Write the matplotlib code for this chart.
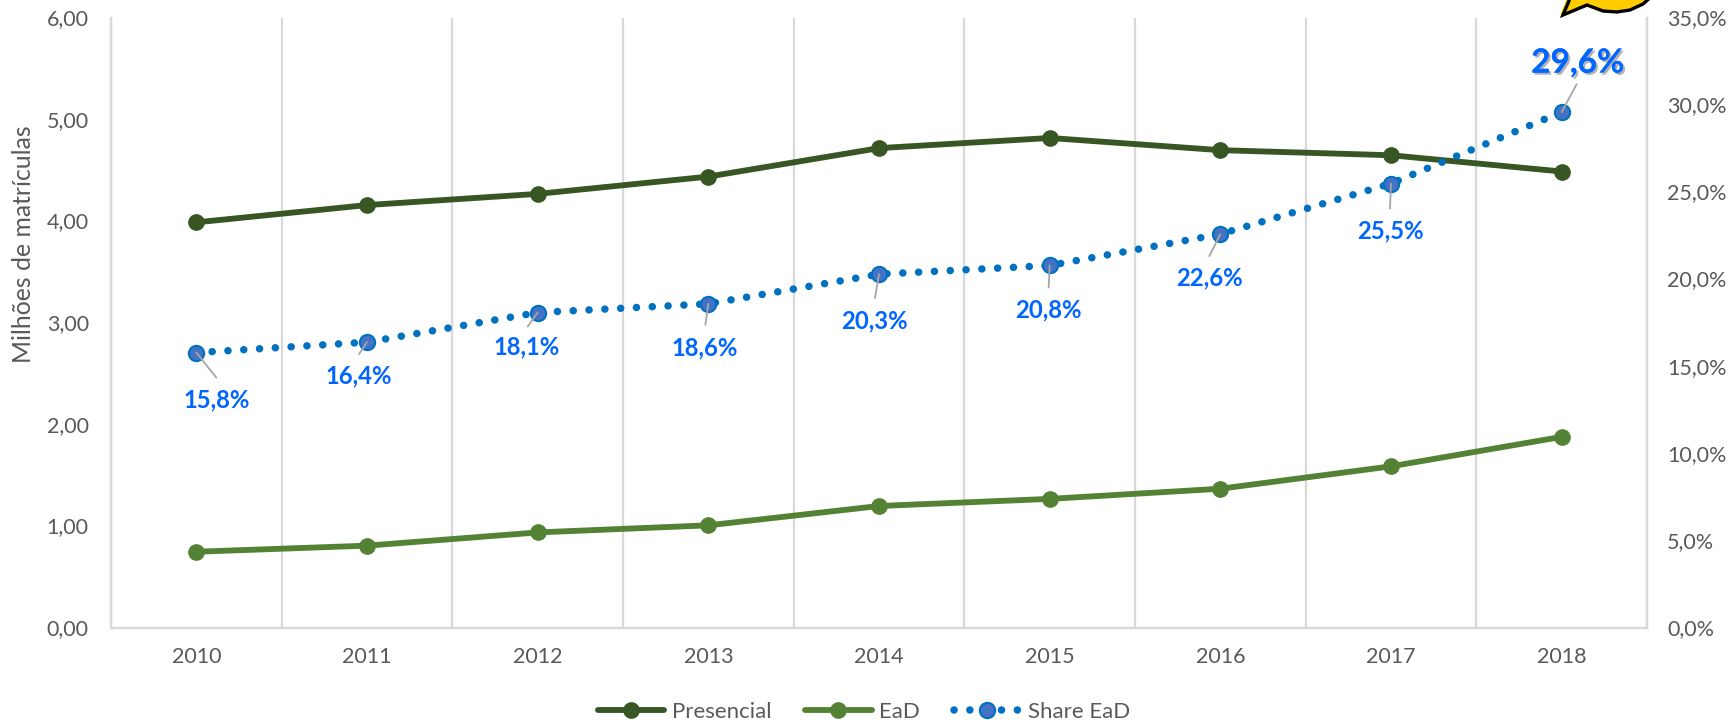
import matplotlib
matplotlib.use('Agg')
import matplotlib.pyplot as plt
import matplotlib.patheffects as pe
from matplotlib.patches import Polygon
from matplotlib.transforms import ScaledTranslation

years = ['2010', '2011', '2012', '2013', '2014', '2015', '2016', '2017', '2018']
presencial = [3.99, 4.16, 4.27, 4.44, 4.72, 4.82, 4.70, 4.65, 4.49]
ead = [0.75, 0.81, 0.94, 1.01, 1.20, 1.27, 1.37, 1.59, 1.88]
share = [15.8, 16.4, 18.1, 18.6, 20.3, 20.8, 22.6, 25.5, 29.6]
share_labels = ['15,8%', '16,4%', '18,1%', '18,6%', '20,3%', '20,8%', '22,6%', '25,5%', '29,6%']
left_ticks = [0, 1, 2, 3, 4, 5, 6]
right_ticks = [0, 5, 10, 15, 20, 25, 30, 35]
# offsets in pixels from the point (x right, y up)
label_offsets = [(20, -47), (-8, -34), (-11, -34), (-4, -44), (-5, -47), (-1, -44), (-11, -44), (-1, -47), (16, 49)]
leader_offsets = [(20, -25), (-8, -12), (-10, -14), (-3, -21), (-4, -24), (-1, -22), (-11, -22), (-1, -25), (15, 28)]

plt.rcParams['font.family'] = ['Lato', 'DejaVu Sans']
W, H = 1732, 726
PT = 0.72  # pixels to points at dpi 100
gray = '#595959'
grid = '#d9d9d9'
dark = '#375623'
green = '#548235'
blue = '#0070c0'
label_blue = '#0066ff'

fig = plt.figure(figsize=(W / 100, H / 100), dpi=100)
ax = fig.add_axes([111 / W, 1 - 628 / H, (1647 - 111) / W, (628 - 18) / H])
ax2 = ax.twinx()
x = list(range(len(years)))

ax.set_xlim(-0.5, 8.5)
ax.set_ylim(0, 6)
ax2.set_ylim(0, 35)
ax.set_xticks([i - 0.5 for i in range(10)], minor=True)
ax.grid(True, axis='x', which='minor', color=grid, linewidth=1.6)
ax.set_axisbelow(True)
ax.set_xticks(x)
ax.set_xticklabels(years, fontsize=15.5, color=gray)
ax.tick_params(axis='x', which='both', length=0, pad=14)
ax.set_yticks(left_ticks)
ax.set_yticklabels([f'{v},00' for v in left_ticks], fontsize=15.5, color=gray)
ax.tick_params(axis='y', length=0, pad=16)
ax2.set_yticks(right_ticks)
ax2.set_yticklabels([f'{v},0%' for v in right_ticks], fontsize=15.5, color=gray)
ax2.tick_params(axis='y', length=0, pad=14.5)
# tick text sits a little higher than the gridline centre
lift = ScaledTranslation(0, 0.7 / 72, fig.dpi_scale_trans)
for lab in ax.get_yticklabels() + ax2.get_yticklabels():
    lab.set_transform(lab.get_transform() + lift)
fig.text(24 / W, 1 - 244 / H, 'Milhões de matrículas', rotation=90, ha='center', va='center',
         fontsize=17.8, color=gray)
for a in (ax, ax2):
    for name, sp in a.spines.items():
        sp.set_visible(name in ('bottom', 'left', 'right'))
        sp.set_color(grid)
        sp.set_linewidth(1.6)

l1, = ax.plot(x, presencial, color=dark, lw=4.2, marker='o', ms=11, solid_capstyle='round', label='Presencial', zorder=3)
l2, = ax.plot(x, ead, color=green, lw=4.2, marker='o', ms=11, solid_capstyle='round', label='EaD', zorder=3)
l3, = ax2.plot(x, share, color=blue, lw=5.4, linestyle=(0, (0.01, 2.1)), dash_capstyle='round',
               marker='o', ms=11, mfc='#4472c4', mec=blue, mew=1.5, label='Share EaD', zorder=3)

for i, txt in enumerate(share_labels):
    dx, dy = label_offsets[i]
    last = i == len(share_labels) - 1
    t = ax2.annotate(txt, (x[i], share[i]), xytext=(dx * PT, dy * PT), textcoords='offset points',
                     ha='center', va='center', color=label_blue, fontweight='bold',
                     fontsize=24 if last else 17.2, zorder=5)
    if last:
        t.set_path_effects([pe.withSimplePatchShadow(offset=(1.5, -1.5), shadow_rgbFace='#7f7f7f', alpha=0.6), pe.Normal()])
    lx, ly = leader_offsets[i]
    ax2.annotate('', (x[i], share[i]), xytext=(lx * PT, ly * PT), textcoords='offset points',
                 arrowprops=dict(arrowstyle='-', color='#a6a6a6', lw=1.3, shrinkA=0, shrinkB=0), zorder=6)

# cropped yellow callout at the top edge
blob = [(1563, 15), (1571, -4), (1652, -4), (1643, 4), (1630, 10), (1617, 12), (1603, 11), (1587, 5)]
shadow = Polygon([((px - 3) / W, 1 - py / H) for px, py in blob], closed=True, transform=fig.transFigure,
                 facecolor='#ffcc00', edgecolor='none')
fig.add_artist(shadow)
shape = Polygon([(px / W, 1 - py / H) for px, py in blob], closed=True, transform=fig.transFigure,
                facecolor='#ffcc00', edgecolor='black', linewidth=2.4)
fig.add_artist(shape)

fig.legend(handles=[l1, l2, l3], loc='center', bbox_to_anchor=(864 / W, 1 - 712 / H), ncol=3, frameon=False,
           fontsize=16, labelcolor=gray, handlelength=3.0, handletextpad=0.35, columnspacing=1.5)
fig.savefig('out.png', dpi=100)
